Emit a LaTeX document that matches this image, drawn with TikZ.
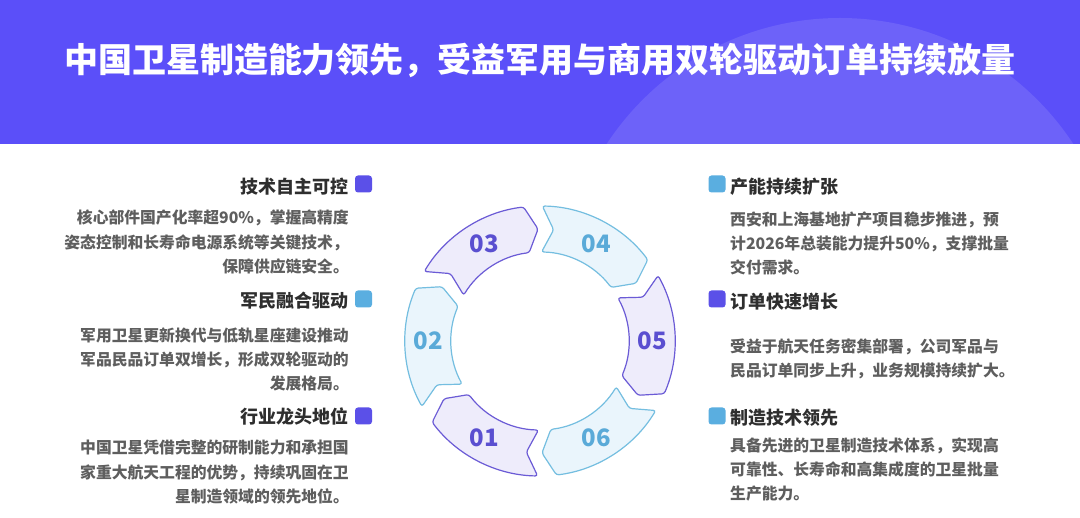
\documentclass[tikz,border=0pt]{standalone}
\usepackage{fontspec}
\setmainfont{Noto Sans CJK SC}
\definecolor{hdr}{HTML}{5B4FF9}
\definecolor{pstroke}{HTML}{6B5BD6}
\definecolor{pfill}{HTML}{EEECFB}
\definecolor{ptext}{HTML}{5A4FD0}
\definecolor{bstroke}{HTML}{74BEE0}
\definecolor{bfillc}{HTML}{EAF5FC}
\definecolor{btext}{HTML}{5AAAD8}
\definecolor{mpurple}{HTML}{5B50E8}
\definecolor{mblue}{HTML}{5AAEE0}
\definecolor{hdtxt}{HTML}{2E2E2E}
\definecolor{bdtxt}{HTML}{5E5E5E}
\newcommand\ringseg[2]{%
  \draw[#2, rounded corners=2.5pt, line width=1.2pt]
    (#1+29:135) arc[start angle=#1+29, end angle=#1-23, radius=135]
    -- (#1-29:112) -- (#1-23:89)
    arc[start angle=#1-23, end angle=#1+29, radius=89]
    -- (#1+23:112) -- cycle;}
\begin{document}
\begin{tikzpicture}[x=1pt,y=-1pt,
  hd/.style={font=\fontsize{18}{20}\selectfont\bfseries, text=hdtxt, inner sep=0pt},
  bd/.style={font=\fontsize{15.8}{20}\selectfont\bfseries, text=bdtxt, inner sep=0pt},
  mkbox/.style={minimum size=17pt, inner sep=0pt, rounded corners=3pt},
  pseg/.style={draw=pstroke, fill=pfill},
  bseg/.style={draw=bstroke, fill=bfillc},
  pnum/.style={font=\fontsize{24}{26}\selectfont\bfseries, text=ptext},
  bnum/.style={font=\fontsize{24}{26}\selectfont\bfseries, text=btext}]
\useasboundingbox (0,0) rectangle (1080,518);
\fill[white] (0,0) rectangle (1080,518);
\begin{scope}
  \clip (0,0) rectangle (1080,144);
  \fill[hdr] (0,0) rectangle (1080,144);
  \fill[white, opacity=0.11] (840,297) circle[radius=279];
\end{scope}
\node[text=white, inner sep=0pt, font=\fontsize{34}{40}\selectfont\bfseries] (title) at (540,60) {中国卫星制造能力领先，受益军用与商用双轮驱动订单持续放量};

% ring
\begin{scope}[shift={(540,341)}, yscale=-1]
  \ringseg{240}{pseg}
  \ringseg{180}{bseg}
  \ringseg{120}{pseg}
  \ringseg{60}{bseg}
  \ringseg{0}{pseg}
  \ringseg{300}{bseg}
  \node[pnum] (n01) at (240:112) {01};
  \node[bnum] (n02) at (180:112) {02};
  \node[pnum] (n03) at (120:112) {03};
  \node[bnum] (n04) at (60:112) {04};
  \node[pnum] (n05) at (0:112) {05};
  \node[bnum] (n06) at (300:112) {06};
\end{scope}

% left column
\node[mkbox, fill=mpurple] (lm1) at (363.5,184) {};
\node[hd, anchor=base east] (lh1) at (349,194) {技术自主可控};
\node[bd, anchor=base east] (lb11) at (349,224) {核心部件国产化率超90\%，掌握高精度};
\node[bd, anchor=base east] (lb12) at (349,248.5) {姿态控制和长寿命电源系统等关键技术，};
\node[bd, anchor=base east] (lb13) at (349,273) {保障供应链安全。};

\node[mkbox, fill=mblue] (lm2) at (363.5,299) {};
\node[hd, anchor=base east] (lh2) at (349,308) {军民融合驱动};
\node[bd, anchor=base east] (lb21) at (349,342) {军用卫星更新换代与低轨星座建设推动};
\node[bd, anchor=base east] (lb22) at (349,366) {军品民品订单双增长，形成双轮驱动的};
\node[bd, anchor=base east] (lb23) at (349,390) {发展格局。};

\node[mkbox, fill=mpurple] (lm3) at (363.5,416) {};
\node[hd, anchor=base east] (lh3) at (349,424) {行业龙头地位};
\node[bd, anchor=base east] (lb31) at (349,454) {中国卫星凭借完整的研制能力和承担国};
\node[bd, anchor=base east] (lb32) at (349,478.5) {家重大航天工程的优势，持续巩固在卫};
\node[bd, anchor=base east] (lb33) at (349,503) {星制造领域的领先地位。};

% right column
\node[mkbox, fill=mblue] (rm1) at (717,184) {};
\node[hd, anchor=base west] (rh1) at (730,194) {产能持续扩张};
\node[bd, anchor=base west] (rb11) at (730,226) {西安和上海基地扩产项目稳步推进，预};
\node[bd, anchor=base west] (rb12) at (730,250) {计2026年总装能力提升50\%，支撑批量};
\node[bd, anchor=base west] (rb13) at (730,274) {交付需求。};

\node[mkbox, fill=mpurple] (rm2) at (717,299) {};
\node[hd, anchor=base west] (rh2) at (730,309) {订单快速增长};
\node[bd, anchor=base west] (rb21) at (730,353) {受益于航天任务密集部署，公司军品与};
\node[bd, anchor=base west] (rb22) at (730,377) {民品订单同步上升，业务规模持续扩大。};

\node[mkbox, fill=mblue] (rm3) at (717,416) {};
\node[hd, anchor=base west] (rh3) at (730,425) {制造技术领先};
\node[bd, anchor=base west] (rb31) at (730,452) {具备先进的卫星制造技术体系，实现高};
\node[bd, anchor=base west] (rb32) at (730,476) {可靠性、长寿命和高集成度的卫星批量};
\node[bd, anchor=base west] (rb33) at (730,500) {生产能力。};
\end{tikzpicture}
\end{document}
